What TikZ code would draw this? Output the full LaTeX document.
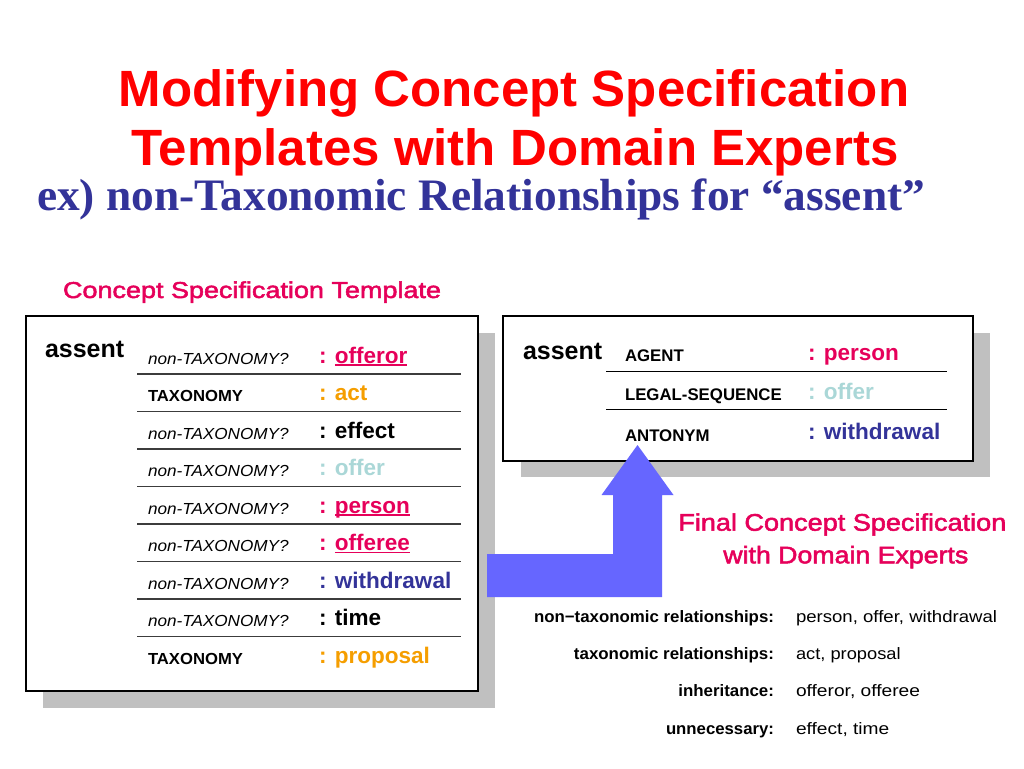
\documentclass[tikz,border=0pt]{standalone}
\usepackage{fontspec}
\usepackage{graphicx}
\setmainfont{Liberation Sans}
\newfontfamily\titleserif{Liberation Serif}
\newfontfamily\gothic[FakeBold=2]{Liberation Sans}
\newlength\px \setlength\px{0.75pt}
\newcommand\fitw[2]{\resizebox{#1\px}{\height}{#2}}
\newcommand\myul[1]{\setbox0\hbox{#1}\rlap{\rule[-2.5\px]{\wd0}{1.4\px}}\box0}
\definecolor{titlered}{RGB}{255,0,0}
\definecolor{subblue}{RGB}{51,51,153}
\definecolor{mypink}{RGB}{230,0,90}
\definecolor{vorange}{RGB}{245,158,0}
\definecolor{vlight}{RGB}{170,215,215}
\definecolor{arrowblue}{RGB}{102,102,255}
\definecolor{shadowgray}{RGB}{192,192,192}
\definecolor{rowline}{RGB}{60,60,60}
\newcommand\ntx{\fitw{140.7}{\fontsize{12pt}{14pt}\selectfont\itshape non-TAXONOMY?}}
\newcommand\tx{\fitw{95}{\fontsize{12pt}{14pt}\selectfont\bfseries TAXONOMY}}
\newcommand\valfont{\fontsize{16.9pt}{20pt}\selectfont\bfseries}
\newcommand\lblfont{\fontsize{12.6pt}{15pt}\selectfont\bfseries}
\newcommand\tabfont{\fontsize{12.4pt}{15pt}\selectfont}
\tikzset{
  txt/.style={inner sep=0pt, outer sep=0pt},
  bw/.style={txt, anchor=base west},
  be/.style={txt, anchor=base east},
  bc/.style={txt, anchor=base},
  shadowbox/.style={fill=shadowgray, draw=none},
  mainbox/.style={fill=white, draw=black, line width=1.5\px},
  rowrule/.style={draw=rowline, line width=1.8\px},
  thinrule/.style={draw=black, line width=1\px},
  bigarrow/.style={fill=arrowblue, draw=none},
}
\begin{document}
\begin{tikzpicture}[x=0.75pt,y=-0.75pt]
\useasboundingbox (0,0) rectangle (1024,768);
\fill[white] (0,0) rectangle (1024,768);

% titles
\node[bc, text=titlered] (t1) at (514,106) {\fontsize{38.25pt}{45pt}\selectfont\bfseries Modifying Concept Specification};
\node[bc, text=titlered] (t2) at (515,165) {\fontsize{38.25pt}{45pt}\selectfont\bfseries Templates with Domain Experts};
\node[bw, text=subblue] (sub) at (37,210) {\fitw{888}{\titleserif\fontsize{33.75pt}{40pt}\selectfont\bfseries ex) non-Taxonomic Relationships for “assent”}};

\node[bw, text=mypink] (cst) at (63,298) {\fitw{378}{\gothic\fontsize{17.25pt}{20pt}\selectfont Concept Specification Template}};

% left box
\path[shadowbox] (43,333) rectangle (495,708);
\path[mainbox] (26,316) rectangle (478,691);
\node[bw] (la) at (45,357) {\fontsize{18.75pt}{22pt}\selectfont\bfseries assent};
\foreach \yy in {374,411.5,449,486.5,524,561.5,599,636.5}
  \path[rowrule] (137,\yy) -- (461,\yy);

\node[bw] (l1) at (148,364.3) {\ntx};
\node[bw] (l2) at (148,401.8) {\tx};
\node[bw] (l3) at (148,439.3) {\ntx};
\node[bw] (l4) at (148,476.8) {\ntx};
\node[bw] (l5) at (148,514.3) {\ntx};
\node[bw] (l6) at (148,551.8) {\ntx};
\node[bw] (l7) at (148,589.3) {\ntx};
\node[bw] (l8) at (148,626.8) {\ntx};
\node[bw] (l9) at (148,664.3) {\tx};

\node[bw, text=mypink] (v1) at (319,363.3) {\valfont : \myul{offeror}};
\node[bw, text=vorange] (v2) at (319,400.8) {\valfont : act};
\node[bw, text=black] (v3) at (319,438.3) {\valfont : effect};
\node[bw, text=vlight] (v4) at (319,475.8) {\valfont : offer};
\node[bw, text=mypink] (v5) at (319,513.3) {\valfont : \myul{person}};
\node[bw, text=mypink] (v6) at (319,550.8) {\valfont : \myul{offeree}};
\node[bw, text=subblue] (v7) at (319,588.3) {\valfont : withdrawal};
\node[bw, text=black] (v8) at (319,625.8) {\valfont : time};
\node[bw, text=vorange] (v9) at (319,663.3) {\valfont : proposal};

% right box
\path[shadowbox] (521,333) rectangle (990,477);
\path[mainbox] (503,316) rectangle (973,461);
\node[bw] (ra) at (523,359) {\fontsize{18.75pt}{22pt}\selectfont\bfseries assent};
\path[thinrule] (606,371) -- (947,371);
\path[thinrule] (606,409.5) -- (947,409.5);
\node[bw] (r1) at (625,361.7) {\lblfont AGENT};
\node[bw] (r2) at (625,400.7) {\lblfont LEGAL-SEQUENCE};
\node[bw] (r3) at (625,441) {\lblfont ANTONYM};
\node[bw, text=mypink] (rv1) at (808,360) {\valfont : person};
\node[bw, text=vlight] (rv2) at (808,399) {\valfont : offer};
\node[bw, text=subblue] (rv3) at (808,439) {\valfont : withdrawal};

% arrow
\path[bigarrow] (487,554) -- (613,554) -- (613,495) -- (601.5,495) -- (637.5,445)
  -- (673.5,495) -- (662,495) -- (662,597) -- (487,597) -- cycle;

% final caption
\node[bw, text=mypink] (f1) at (678.3,530.7) {\fitw{328}{\gothic\fontsize{18pt}{21pt}\selectfont Final Concept Specification}};
\node[bw, text=mypink] (f2) at (723.3,563.3) {\fitw{245}{\gothic\fontsize{18pt}{21pt}\selectfont with Domain Experts}};

% summary table
\node[be] (s1) at (774,622.3) {\fitw{240}{\tabfont\bfseries non−taxonomic relationships:}};
\node[be] (s2) at (774,659.3) {\fitw{200}{\tabfont\bfseries taxonomic relationships:}};
\node[be] (s3) at (774,696.7) {\fitw{95.7}{\tabfont\bfseries inheritance:}};
\node[be] (s4) at (774,734) {\fitw{108}{\tabfont\bfseries unnecessary:}};
\node[bw] (w1) at (796,622.3) {\fitw{201}{\tabfont person, offer, withdrawal}};
\node[bw] (w2) at (796,659.3) {\fitw{104.7}{\tabfont act, proposal}};
\node[bw] (w3) at (796,696.7) {\fitw{124}{\tabfont offeror, offeree}};
\node[bw] (w4) at (796,734) {\fitw{93.3}{\tabfont effect, time}};
\end{tikzpicture}
\end{document}
